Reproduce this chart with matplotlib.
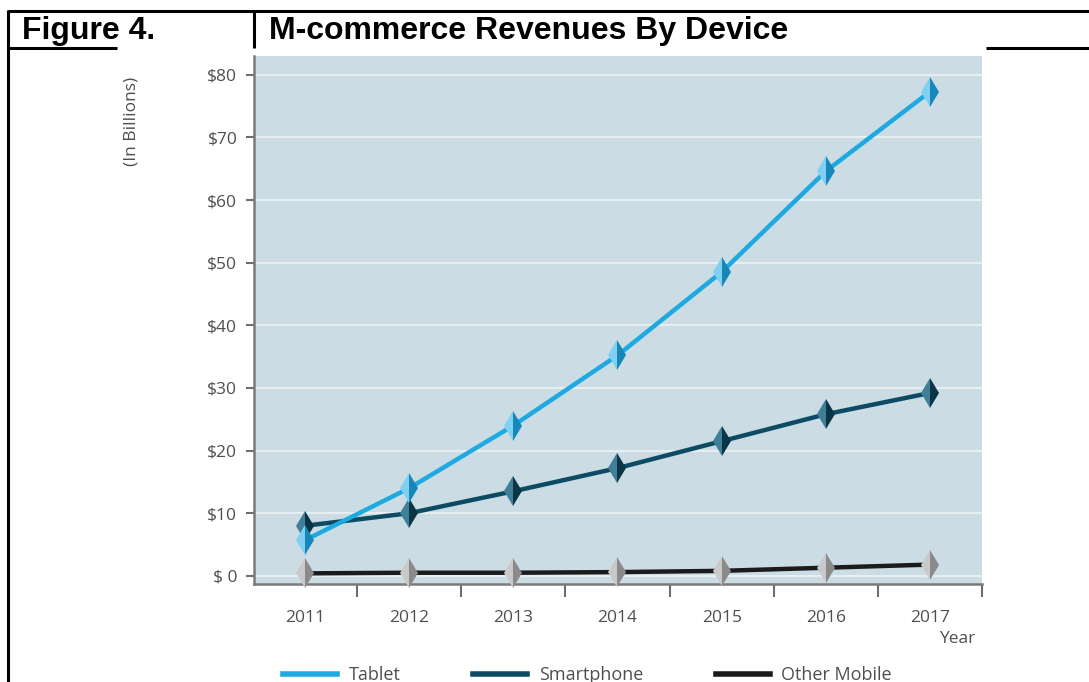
import matplotlib
matplotlib.use("Agg")
import matplotlib.pyplot as plt
from matplotlib.lines import Line2D
from matplotlib.ticker import FixedLocator, FuncFormatter

# M-commerce revenues, billions of US dollars
years = [2011, 2012, 2013, 2014, 2015, 2016, 2017]
tablet = [5.7, 14.0, 24.0, 35.2, 48.5, 64.6, 77.3]
smartphone = [8.0, 10.0, 13.5, 17.2, 21.5, 25.8, 29.2]
other_mobile = [0.4, 0.5, 0.5, 0.6, 0.8, 1.3, 1.8]

series_names = ["Tablet", "Smartphone", "Other Mobile"]
y_ticks = [0, 10, 20, 30, 40, 50, 60, 70, 80]

W, H = 1089, 682
fig = plt.figure(figsize=(W / 100, H / 100), dpi=100)
fig.patch.set_facecolor("white")


def px(x, y):
    return x / W, 1 - y / H


# document table frame round the figure
frame_kw = dict(color="black", lw=2.2, transform=fig.transFigure, solid_capstyle="butt")
for (x0, y0), (x1, y1) in [((8, 11), (1089, 11)), ((8, 10), (8, 682)),
                           ((254, 11), (254, 48)), ((8, 48), (117, 48)),
                           ((986, 48), (1089, 48))]:
    a, b = px(x0, y0)
    c, d = px(x1, y1)
    fig.add_artist(Line2D([a, c], [b, d], **frame_kw))

title_kw = dict(fontfamily="Liberation Sans", fontweight="bold", fontsize=23,
                va="center", ha="left", color="black")
fig.text(*px(22, 31), "Figure 4.", **title_kw)
fig.text(*px(269, 31), "M-commerce Revenues By Device", **title_kw)

# chart
left, right, top, bottom = 254, 982, 56, 584
ax = fig.add_axes([left / W, 1 - bottom / H, (right - left) / W, (bottom - top) / H])
ax.set_facecolor("#cbdce5")

grey = "#4f4f4f"
font = "Open Sans"
fsize = 12.5

ax.set_ylim(-1.3, 83.0)
ax.set_xlim(2010.51, 2017.5)
ax.set_yticks(y_ticks)
ax.yaxis.set_major_formatter(FuncFormatter(lambda v, _: "$ 0" if v == 0 else f"${v:.0f}"))
ax.grid(axis="y", color="#e6eef2", lw=1.6)
ax.set_axisbelow(True)

ax.set_xticks(years)
ax.set_xticklabels([str(y) for y in years])
ax.xaxis.set_minor_locator(FixedLocator([y + 0.5 for y in years]))
ax.tick_params(axis="x", which="major", length=0, pad=19)
ax.tick_params(axis="x", which="minor", length=9, width=1.5, color="#6e6e6e", direction="out")
ax.tick_params(axis="y", length=6, width=1.5, color="#6e6e6e", pad=6)
ax.tick_params(labelsize=fsize, labelcolor=grey)
for lab in ax.get_xticklabels() + ax.get_yticklabels():
    lab.set_fontfamily(font)

for s in ["top", "right"]:
    ax.spines[s].set_visible(False)
for s in ["left", "bottom"]:
    ax.spines[s].set_color("#7a7a7a")
    ax.spines[s].set_linewidth(1.8)

line_styles = [
    (tablet, "#1ea9e1", "#7fd0f2", "#1687b8"),
    (smartphone, "#0d4b63", "#3f8099", "#0b3446"),
    (other_mobile, "#1b1b1b", "#c9c9c9", "#8a8a8a"),
]
handles = []
for (vals, col, light, dark), name in zip(line_styles[::-1], series_names[::-1]):
    ax.plot(years, vals, color=col, lw=3.2, zorder=3, label=name,
            marker="d", markersize=15, fillstyle="left",
            markerfacecolor=light, markerfacecoloralt=dark,
            markeredgewidth=0, clip_on=False)
    handles.append(Line2D([], [], color=col, lw=4, label=name))
handles = handles[::-1]

fig.text(*px(132, 121), "(In Billions)", rotation=90, ha="center", va="center",
         fontsize=fsize, color=grey, fontfamily=font)
fig.text(*px(975, 639), "Year", ha="right", va="center",
         fontsize=fsize, color=grey, fontfamily=font)

fig.legend(handles=handles, loc="center left", bbox_to_anchor=px(283, 675),
           ncol=3, frameon=False, borderpad=0, borderaxespad=0,
           handlelength=3.0, handletextpad=0.65, columnspacing=4.0,
           prop={"family": font, "size": 13}, labelcolor=grey)

fig.savefig("out.png", dpi=100)
